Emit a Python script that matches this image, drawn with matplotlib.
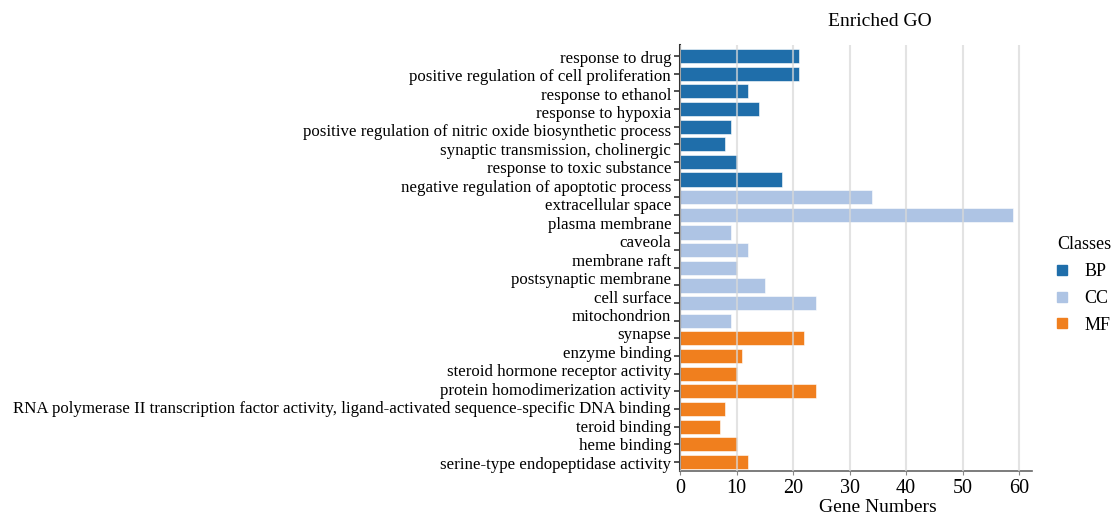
import numpy as np
import matplotlib.pyplot as plt
from matplotlib.lines import Line2D

plt.rcParams['font.family'] = ['Liberation Serif', 'DejaVu Serif']

# data to plot
bp_counts = [21, 21, 12, 14, 9, 8, 10, 18]
cc_counts = [34, 59, 9, 12, 10, 15, 24, 9]
mf_counts = [22, 11, 10, 24, 8, 7, 10, 12]

class_names = ['BP', 'CC', 'MF']
class_colors = ['#1f6eaa', '#aec4e4', '#f07f1e']

# the reference lists 23 term names against 24 bars
term_labels = ['response to drug',
               'positive regulation of cell proliferation',
               'response to ethanol',
               'response to hypoxia',
               'positive regulation of nitric oxide biosynthetic process',
               'synaptic transmission, cholinergic',
               'response to toxic substance',
               'negative regulation of apoptotic process',
               'extracellular space',
               'plasma membrane',
               'caveola',
               'membrane raft',
               'postsynaptic membrane',
               'cell surface',
               'mitochondrion',
               'synapse',
               'enzyme binding',
               'steroid hormone receptor activity',
               'protein homodimerization activity',
               'RNA polymerase II transcription factor activity, ligand-activated sequence-specific DNA binding',
               'teroid binding',
               'heme binding',
               'serine-type endopeptidase activity']

counts = bp_counts + cc_counts + mf_counts
colors = ([class_colors[0]] * len(bp_counts) + [class_colors[1]] * len(cc_counts)
          + [class_colors[2]] * len(mf_counts))

fig = plt.figure(figsize=(11.19, 5.16), dpi=100)
ax = fig.add_axes([0.6077, 0.0876, 0.3146, 0.8244])

index = np.arange(len(counts))
ax.barh(index, counts, height=0.8, color=colors, edgecolor='white',
        linewidth=0.4, zorder=2)

ax.set_xlim(0, 62.3)
ax.set_ylim(len(counts) - 0.5, -0.6)
ax.set_xticks(np.arange(0, 61, 10))
ax.tick_params(axis='x', labelsize=14.5, length=3, color='#888888', pad=3)
ax.set_yticks(index)
ax.set_yticklabels([])
ax.tick_params(axis='y', length=4, width=1.2, color='#333333')

# term names spread over the bar range, like the reference
label_pos = np.linspace(0, len(counts) - 1, len(term_labels))
trans = ax.get_yaxis_transform()
for pos, name in zip(label_pos, term_labels):
    ax.text(-0.025, pos + 0.15, name, transform=trans, ha='right', va='center',
            fontsize=12.2)

ax.grid(axis='x', color='#d8d8d8', linewidth=1.5, alpha=0.7, zorder=3)
ax.set_axisbelow(False)
for s in ['top', 'right']:
    ax.spines[s].set_visible(False)
ax.spines['left'].set_color('#333333')
ax.spines['left'].set_linewidth(1.5)
ax.spines['bottom'].set_color('#666666')
ax.spines['bottom'].set_linewidth(1.2)

fig.text(880 / 1119, 1 - 22 / 516, 'Enriched GO', ha='center', va='center',
         fontsize=14)
fig.text(878 / 1119, 1 - 507 / 516, 'Gene Numbers', ha='center', va='center',
         fontsize=14)

handles = [Line2D([], [], marker='s', linestyle='none', markersize=7.5,
                  markerfacecolor=c, markeredgecolor=c) for c in class_colors]
leg = fig.legend(handles, class_names, title='Classes', loc='upper left',
                 bbox_to_anchor=(1057 / 1119, 1 - 236 / 516), frameon=False,
                 fontsize=13, title_fontsize=13, handletextpad=0.9,
                 labelspacing=0.55, handlelength=0.6, borderpad=0,
                 borderaxespad=0)
leg._legend_box.align = 'left'

fig.savefig('out.png', dpi=100)
